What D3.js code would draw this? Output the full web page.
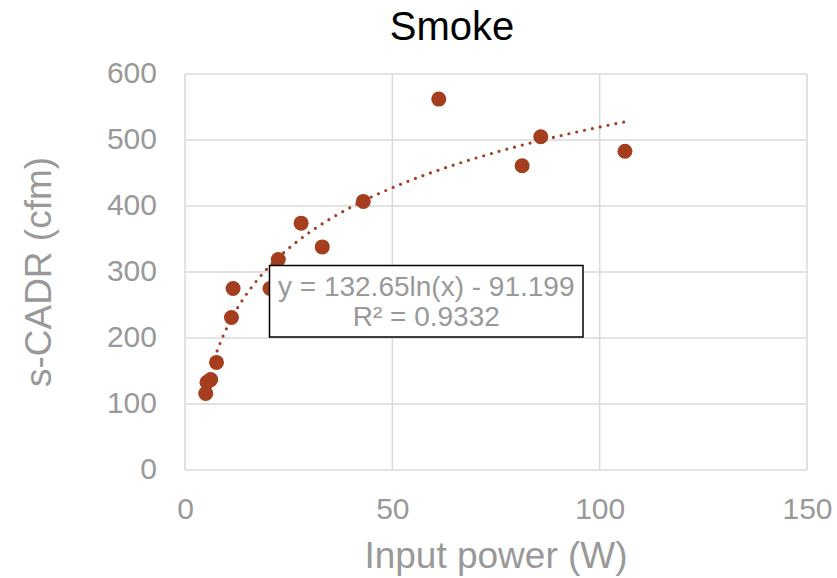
<!DOCTYPE html>
<html>
<head>
<meta charset="utf-8">
<script src="https://cdn.jsdelivr.net/npm/d3@7"></script>
<style>
html,body{margin:0;padding:0;background:#fff;}
svg{display:block;font-family:"Liberation Sans",Arial,sans-serif;}
</style>
</head>
<body>
<svg id="chart" width="837" height="578"></svg>
<script>
const title = "Smoke";
const xLabel = "Input power (W)";
const yLabel = "s-CADR (cfm)";
const xTicks = [0, 50, 100, 150];
const yTicks = [0, 100, 200, 300, 400, 500, 600];
const powerW = [5.0, 5.3, 6.2, 7.6, 11.2, 11.6, 20.5, 22.5, 28.0, 33.1, 43.0, 61.2, 81.3, 85.8, 106.1];
const sCADR  = [116, 133, 137, 163, 231, 275, 275, 319, 374, 338, 407, 562, 461, 505, 483];
const trendCoef = [132.65, -91.199];   // y = a ln(x) + b
const trendLabel = ["y = 132.65ln(x) - 91.199", "R² = 0.9332"];

const svg = d3.select("#chart");
const m = {l:185, r:807, t:74, b:470};
const x = d3.scaleLinear().domain([0,150]).range([m.l, m.r]);
const y = d3.scaleLinear().domain([0,600]).range([m.b, m.t]);
const grid = "#d9d9d9", txt = "#999999", mark = "#A43E1E";

// gridlines
svg.append("g").selectAll("line").data(yTicks).join("line")
  .attr("x1", m.l).attr("x2", m.r).attr("y1", d=>y(d)).attr("y2", d=>y(d))
  .attr("stroke", grid).attr("stroke-width", 1.5);
svg.append("g").selectAll("line").data(xTicks).join("line")
  .attr("y1", m.t).attr("y2", m.b).attr("x1", d=>x(d)).attr("x2", d=>x(d))
  .attr("stroke", grid).attr("stroke-width", 1.5);

// axes labels via d3 axes
const yAxis = svg.append("g").attr("transform", `translate(${m.l},0)`)
  .call(d3.axisLeft(y).tickValues(yTicks).tickSize(0).tickPadding(28));
const xAxis = svg.append("g").attr("transform", `translate(0,${m.b})`)
  .call(d3.axisBottom(x).tickValues(xTicks).tickSize(0).tickPadding(28));
[yAxis, xAxis].forEach(g => {
  g.select(".domain").remove();
  g.selectAll("text").attr("fill", txt).style("font-size", "30px")
   .style("font-family", '"Liberation Sans",Arial,sans-serif');
});
yAxis.selectAll("text").attr("dy", "0.28em");

// points
svg.append("g").selectAll("circle").data(powerW.map((p,i)=>[p, sCADR[i]])).join("circle")
  .attr("cx", d=>x(d[0])).attr("cy", d=>y(d[1])).attr("r", 7.5).attr("fill", mark);

// trendline
const xmin = d3.min(powerW), xmax = d3.max(powerW);
const tx = d3.range(xmin, xmax, 0.25).concat([xmax]);
svg.append("path")
  .attr("d", d3.line().x(d=>x(d)).y(d=>y(trendCoef[0]*Math.log(d)+trendCoef[1]))(tx))
  .attr("fill", "none").attr("stroke", mark).attr("stroke-width", 3.2)
  .attr("stroke-linecap", "round").attr("stroke-dasharray", "0 8");

// trend label box
const bx = 269.5, by = 265.5, bw = 313.5, bh = 71.5;
svg.append("rect").attr("x", bx).attr("y", by).attr("width", bw).attr("height", bh)
  .attr("fill", "#fff").attr("stroke", "#000").attr("stroke-width", 1.5);
svg.append("g").selectAll("text").data(trendLabel).join("text")
  .attr("x", bx + bw/2).attr("y", (d,i)=> 296 + i*30).attr("text-anchor", "middle")
  .attr("fill", txt).style("font-size", "28px").text(d=>d);

// title
svg.append("text").attr("x", 452).attr("y", 40).attr("text-anchor", "middle")
  .attr("fill", "#000").style("font-size", "40px").text(title);
// x label
svg.append("text").attr("x", 496).attr("y", 568).attr("text-anchor", "middle")
  .attr("fill", txt).style("font-size", "37px").text(xLabel);
// y label
svg.append("text").attr("transform", `translate(51,272) rotate(-90)`).attr("text-anchor", "middle")
  .attr("fill", txt).style("font-size", "37px").text(yLabel);
</script>
</body>
</html>
